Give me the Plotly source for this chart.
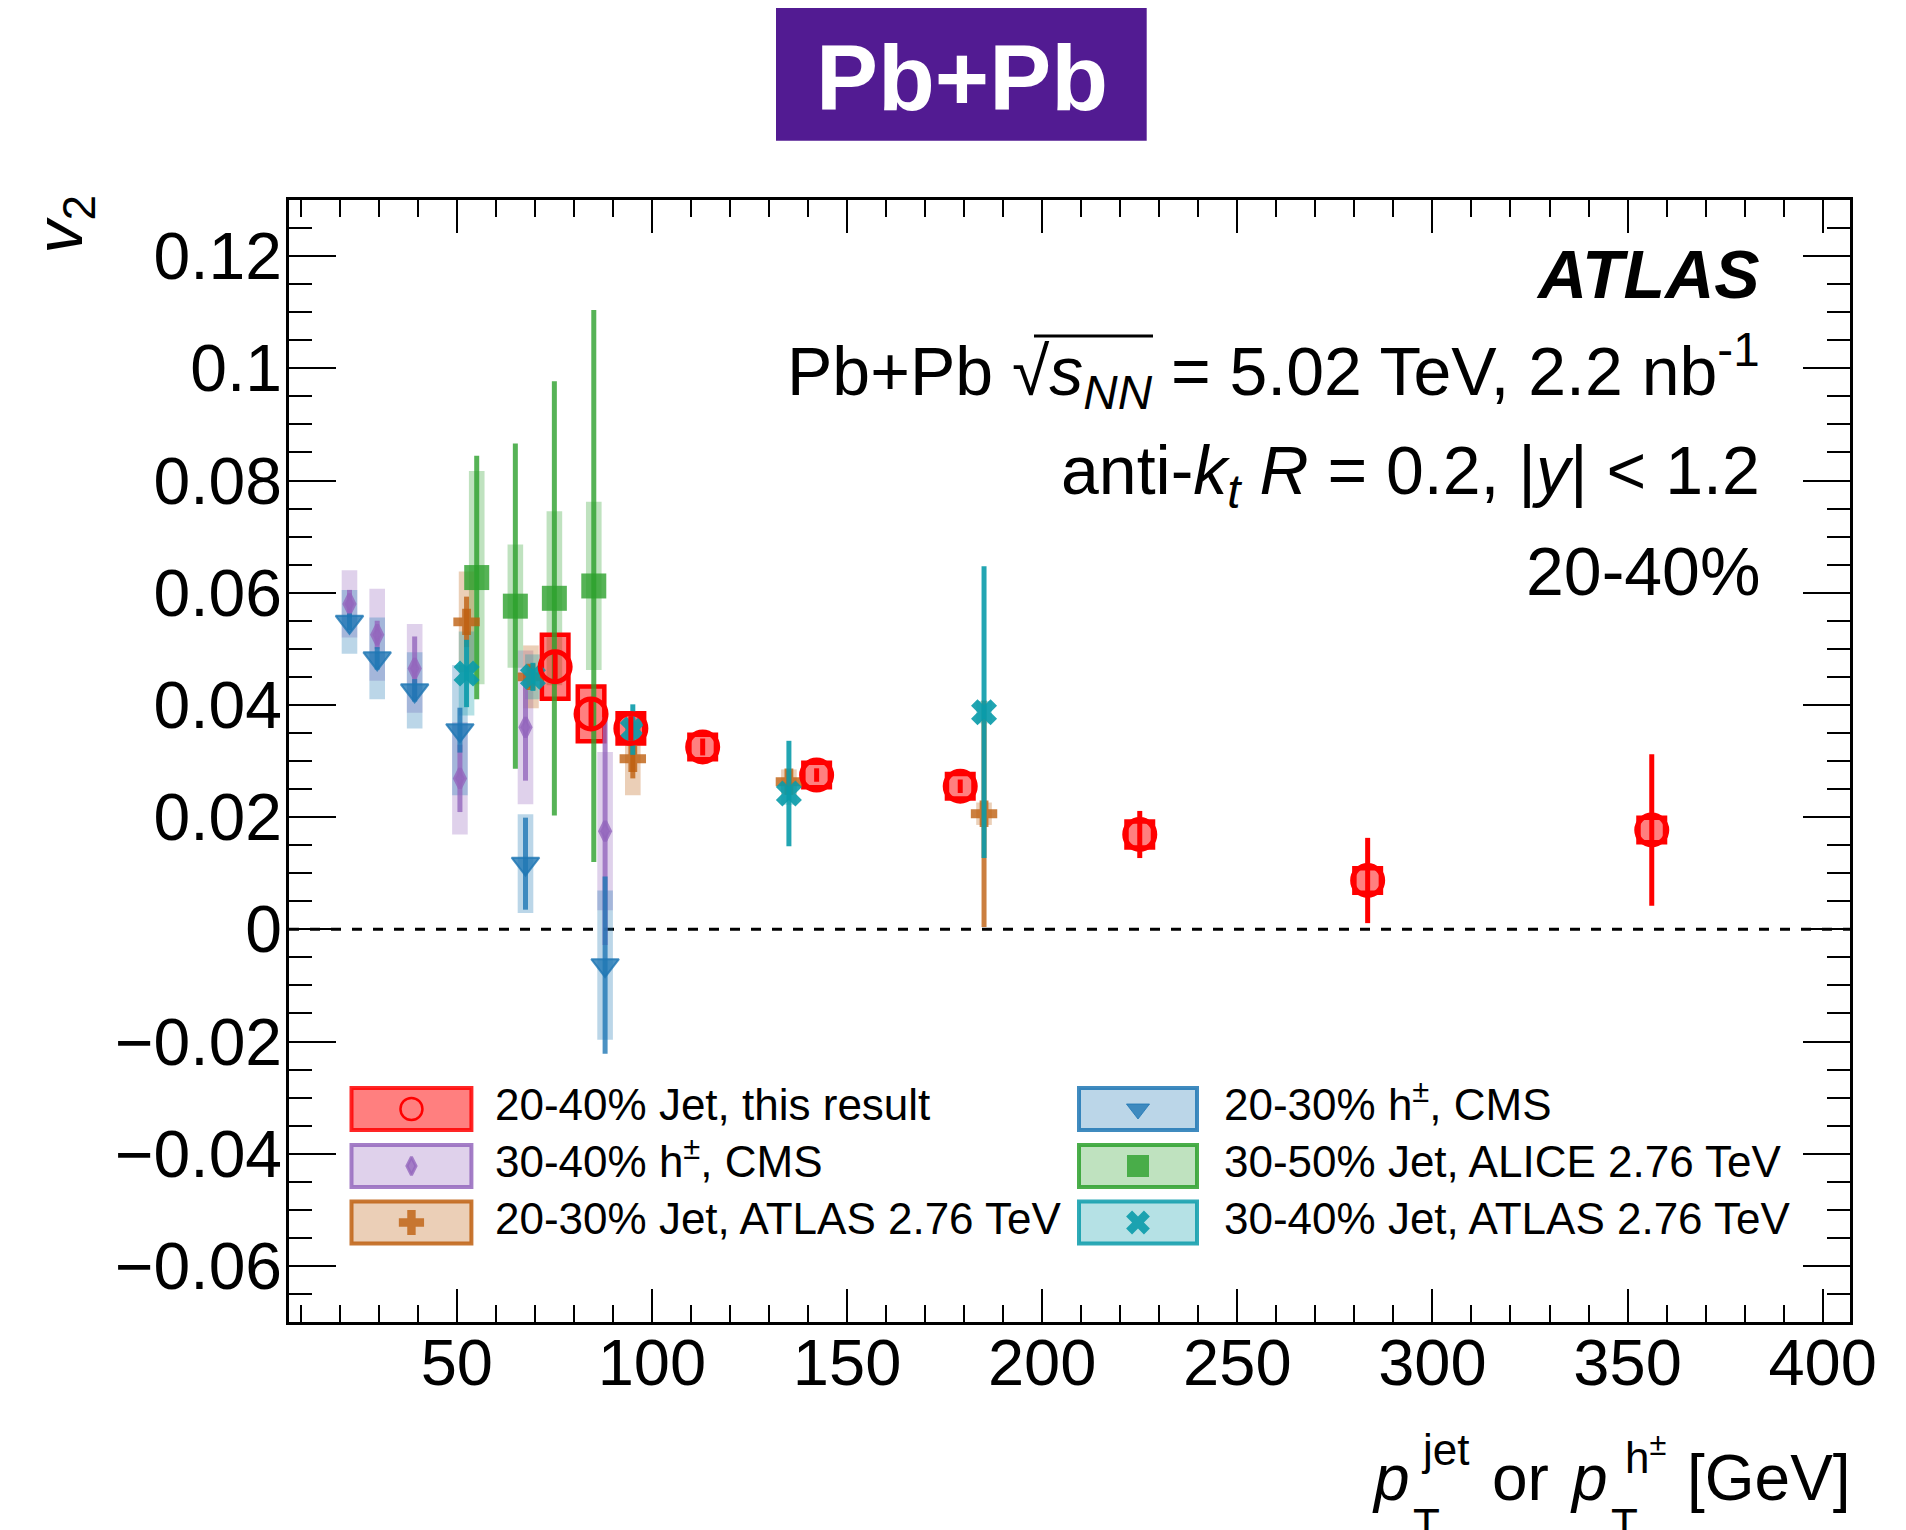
import plotly.graph_objects as go

# ---------------- data ----------------
# 20-40% Jet, this result (ATLAS 5.02 TeV)
red_pt = [75.2, 84.4, 94.6, 113.0, 142.2, 179.0, 225.0, 283.4, 356.2]
red_v2 = [0.0468, 0.0384, 0.0358, 0.0325, 0.0275, 0.0255, 0.0169, 0.0087, 0.0177]
red_stat = [0.0030, 0.0030, 0.0022, 0.0015, 0.0012, 0.0012, 0.0042, 0.0076, 0.0135]
red_sys = [0.0057, 0.0049, 0.0027, 0.0022, 0.0022, 0.0022, 0.0023, 0.0022, 0.0022]

# 30-40% h+-, CMS
purple_pt = [22.5, 29.6, 39.2, 50.8, 67.6, 88.0]
purple_v2 = [0.0580, 0.0525, 0.0465, 0.0269, 0.0360, 0.0175]
purple_stat = [0.0025, 0.0025, 0.0057, 0.0060, 0.0095, 0.0203]
purple_sys = [0.0060, 0.0082, 0.0079, 0.0100, 0.0137, 0.0141]

# 20-30% Jet, ATLAS 2.76 TeV
orange_pt = [52.5, 69.0, 95.1, 135.1, 185.1]
orange_v2 = [0.0548, 0.0450, 0.0304, 0.0263, 0.0206]
orange_stat = [0.0045, 0.0020, 0.0035, 0.0020, 0.0202]
orange_sys = [0.0090, 0.0056, 0.0065, 0.0022, 0.0020]

# 20-30% h+-, CMS
blue_pt = [22.5, 29.6, 39.2, 50.8, 67.6, 88.0]
blue_v2 = [0.0548, 0.0483, 0.0426, 0.0355, 0.0117, -0.0064]
blue_stat = [0.0015, 0.0020, 0.0020, 0.0040, 0.0082, 0.0158]
blue_sys = [0.0057, 0.0073, 0.0068, 0.0116, 0.0088, 0.0133]

# 30-50% Jet, ALICE 2.76 TeV
green_pt = [55.1, 65.0, 75.0, 85.1]
green_v2 = [0.0627, 0.0576, 0.0590, 0.0612]
green_stat = [0.0217, 0.0290, 0.0387, 0.0492]
green_sys = [0.0190, 0.0110, 0.0155, 0.0150]

# 30-40% Jet, ATLAS 2.76 TeV
cyan_pt = [52.5, 69.5, 95.1, 135.1, 185.1]
cyan_v2 = [0.0456, 0.0450, 0.0356, 0.0242, 0.0387]
cyan_stat = [0.0060, 0.0025, 0.0045, 0.0094, 0.0260]
cyan_sys = [0.0075, 0.0040, 0.0020, 0.0020, 0.0020]

legend_labels = [
    "20-40% Jet, this result",
    "30-40% h<sup>±</sup>, CMS",
    "20-30% Jet, ATLAS 2.76 TeV",
    "20-30% h<sup>±</sup>, CMS",
    "30-50% Jet, ALICE 2.76 TeV",
    "30-40% Jet, ATLAS 2.76 TeV",
]

x_range = [7, 407]
y_range = [-0.07, 0.13]
x_tick_step, x_minor_step = 50, 10
y_tick_step, y_minor_step = 0.02, 0.005

# ---------------- layout geometry ----------------
# positions below are given in page pixels; the page body has an 8px margin
OFF = 8
W, H = 1906 - OFF, 1530 - OFF
PL, PR, PT, PB = 289, 1850, 200, 1322          # plot frame in page pixels
FONT = "Liberation Sans, Arial, Helvetica, sans-serif"


def fx(X):
    return (X - PL) / (PR - PL)


def fy(Y):
    return (PB - Y) / (PB - PT)


def rgba(c, a):
    return "rgba(%d,%d,%d,%.3f)" % (c[0], c[1], c[2], a)


# style per series
series = [
    dict(key="red", pt=red_pt, v=red_v2, st=red_stat, sy=red_sys, rgb=(255, 0, 0),
         sym="circle-open", size=30, mline=5, box_w=6.8, box_a=0.5, mk_a=1.0,
         box_line=4.5, label=legend_labels[0], leg=(0, 0), leg_size=22, leg_mline=2.5),
    dict(key="purple", pt=purple_pt, v=purple_v2, st=purple_stat, sy=purple_sys, rgb=(148, 103, 189),
         sym="diamond-tall", size=14, mline=4, box_w=4.0, box_a=0.3, mk_a=0.8,
         box_line=0, label=legend_labels[1], leg=(0, 1), leg_size=13, leg_mline=3),
    dict(key="orange", pt=orange_pt, v=orange_v2, st=orange_stat, sy=orange_sys, rgb=(190, 95, 15),
         sym="cross", size=22, mline=0, box_w=4.0, box_a=0.3, mk_a=0.8,
         box_line=0, label=legend_labels[2], leg=(0, 2), leg_size=21, leg_mline=0),
    dict(key="blue", pt=blue_pt, v=blue_v2, st=blue_stat, sy=blue_sys, rgb=(31, 119, 180),
         sym="triangle-down", size=24, mline=2, box_w=4.0, box_a=0.3, mk_a=0.8,
         box_line=0, label=legend_labels[3], leg=(1, 0), leg_size=20, leg_mline=1),
    dict(key="green", pt=green_pt, v=green_v2, st=green_stat, sy=green_sys, rgb=(44, 160, 44),
         sym="square", size=25, mline=0, box_w=4.0, box_a=0.3, mk_a=0.8,
         box_line=0, label=legend_labels[4], leg=(1, 1), leg_size=22, leg_mline=0),
    dict(key="cyan", pt=cyan_pt, v=cyan_v2, st=cyan_stat, sy=cyan_sys, rgb=(10, 155, 170),
         sym="x", size=23, mline=0, box_w=4.0, box_a=0.3, mk_a=0.9,
         box_line=0, label=legend_labels[5], leg=(1, 2), leg_size=21, leg_mline=0),
]
by_key = {s["key"]: s for s in series}
draw_order = ["green", "purple", "blue", "orange", "cyan", "red"]

fig = go.Figure()

# systematic boxes
for k in draw_order:
    s = by_key[k]
    fig.add_trace(go.Bar(
        x=s["pt"],
        y=[2 * e for e in s["sy"]],
        base=[v - e for v, e in zip(s["v"], s["sy"])],
        width=s["box_w"],
        marker=dict(color=rgba(s["rgb"], s["box_a"]),
                    line=dict(color=rgba(s["rgb"], 1.0), width=s["box_line"])),
        showlegend=False, hoverinfo="skip",
    ))

# points with statistical error bars
for k in draw_order:
    s = by_key[k]
    col = rgba(s["rgb"], s["mk_a"])
    fig.add_trace(go.Scatter(
        x=s["pt"], y=s["v"], mode="markers",
        marker=dict(symbol=s["sym"], size=s["size"], color=col,
                    line=dict(color=col, width=s["mline"])),
        error_y=dict(type="data", array=s["st"], visible=True, thickness=5,
                     width=0, color=col),
        showlegend=False, hoverinfo="skip",
    ))

# ---------------- custom ROOT-style legend ----------------
leg_box_x = [(351.5, 471.4), (1079.0, 1197.0)]
leg_text_x = [493.0, 1222.0]
leg_row_c = [1109.0, 1166.0, 1222.5]
leg_row_base = [1120.0, 1176.7, 1233.3]
leg_half_h = 21.0

shapes = []
annotations = []

for s in series:
    c, r = s["leg"]
    x0, x1 = leg_box_x[c]
    yc = leg_row_c[r]
    shapes.append(dict(type="rect", xref="paper", yref="paper",
                       x0=fx(x0), x1=fx(x1), y0=fy(yc + leg_half_h), y1=fy(yc - leg_half_h),
                       fillcolor=rgba(s["rgb"], s["box_a"]),
                       line=dict(color=rgba(s["rgb"], 0.85), width=4), layer="below"))
    col = rgba(s["rgb"], s["mk_a"])
    fig.add_trace(go.Scatter(
        x=[fx((x0 + x1) / 2)], y=[fy(yc)], xaxis="x2", yaxis="y2", mode="markers",
        marker=dict(symbol=s["sym"], size=s["leg_size"], color=col,
                    line=dict(color=col, width=s["leg_mline"])),
        showlegend=False, hoverinfo="skip"))
    has_sup = "<sup>" in s["label"]
    F = 44
    mid = leg_row_base[r] - (0.419 if has_sup else 0.3465) * F
    annotations.append(dict(text=s["label"], x=fx(leg_text_x[c]), y=fy(mid),
                            xref="paper", yref="paper", xanchor="left", yanchor="middle",
                            showarrow=False, font=dict(size=F, color="black", family=FONT)))

# zero line
shapes.append(dict(type="line", xref="paper", yref="y", x0=0, x1=1, y0=0, y1=0,
                   line=dict(color="black", width=3, dash="10px,11px"), layer="below"))

# Pb+Pb title box
shapes.append(dict(type="rect", xref="paper", yref="paper",
                   x0=fx(776), x1=fx(1146.7), y0=fy(140.7), y1=fy(6.7),
                   fillcolor="#521B92", line=dict(width=0), layer="above"))

# overline of the square root
shapes.append(dict(type="line", xref="paper", yref="paper",
                   x0=fx(1034), x1=fx(1153), y0=fy(336), y1=fy(336),
                   line=dict(color="black", width=3), layer="above"))


def txt(s, X, Y, size, xanchor="left", yanchor="middle", color="black", angle=0):
    return dict(text=s, x=fx(X), y=fy(Y), xref="paper", yref="paper",
                xanchor=xanchor, yanchor=yanchor, showarrow=False, textangle=angle,
                font=dict(size=size, color=color, family=FONT))


annotations.append(txt("<b>Pb+Pb</b>", 961.5, 110 - 0.3465 * 93, 93, xanchor="center", color="white"))

RX = 1762
annotations.append(txt("<b><i>ATLAS</i></b>", RX, 298 - 0.3465 * 68, 68, xanchor="right"))
annotations.append(txt(
    "Pb+Pb √<i>s</i><sub><i>NN</i></sub> = 5.02 TeV, 2.2 nb<sup>-1</sup>",
    RX, 397 - 0.3775 * 68, 68, xanchor="right"))
annotations.append(txt("anti-<i>k</i><sub><i>t</i></sub> <i>R</i> = 0.2, |<i>y</i>| &lt; 1.2",
                       RX, 496 - 0.305 * 68, 68, xanchor="right"))
annotations.append(txt("20-40%", RX, 595 - 0.3465 * 68, 68, xanchor="right"))

# y-axis title
annotations.append(txt("<i>v</i><sub>2</sub>", 64, 193, 66, xanchor="center", yanchor="top", angle=-90))

# x-axis title (ROOT style stacked sub/superscripts)
FM, FS = 64, 44
annotations.append(txt("<i>p</i>", 1370, 1500 - 0.3465 * FM, FM))
annotations.append(txt("T", 1411, 1540 - 0.3465 * FS, FS))
annotations.append(txt("jet", 1419, 1465 - 0.3465 * FS, FS))
annotations.append(txt("or", 1490, 1500 - 0.3465 * FM, FM))
annotations.append(txt("<i>p</i>", 1568, 1500 - 0.3465 * FM, FM))
annotations.append(txt("T", 1609, 1540 - 0.3465 * FS, FS))
annotations.append(txt("h<sup>±</sup>", 1623, 1473 - 0.419 * FS, FS))
annotations.append(txt("[GeV]", 1853, 1500 - 0.3465 * FM, FM, xanchor="right"))

axis_common = dict(ticks="inside", tickwidth=2, tickcolor="black", showline=True,
                   linewidth=2.5, linecolor="black", mirror="ticks", showgrid=False,
                   zeroline=False)

fig.update_layout(
    width=W, height=H,
    margin=dict(l=PL - OFF, r=W - (PR - OFF), t=PT - OFF, b=H - (PB - OFF), pad=0),
    plot_bgcolor="white", paper_bgcolor="white",
    barmode="overlay", showlegend=False,
    font=dict(family=FONT, color="black"),
    xaxis=dict(range=x_range, tickmode="linear", tick0=0, dtick=x_tick_step, ticklen=33,
               minor=dict(ticks="inside", ticklen=17, tickwidth=2, tickcolor="black",
                          tick0=0, dtick=x_minor_step),
               tickfont=dict(size=65, family=FONT, color="black"), ticklabelstandoff=-18,
               **axis_common),
    yaxis=dict(range=y_range, tickmode="linear", tick0=0, dtick=y_tick_step, ticklen=47,
               minor=dict(ticks="inside", ticklen=23, tickwidth=2, tickcolor="black",
                          tick0=0, dtick=y_minor_step),
               tickfont=dict(size=66, family=FONT, color="black"), ticklabelstandoff=-9,
               **axis_common),
    xaxis2=dict(overlaying="x", range=[0, 1], visible=False, fixedrange=True),
    yaxis2=dict(overlaying="y", range=[0, 1], visible=False, fixedrange=True),
    shapes=shapes,
    annotations=annotations,
)

fig.write_html("out.html")
